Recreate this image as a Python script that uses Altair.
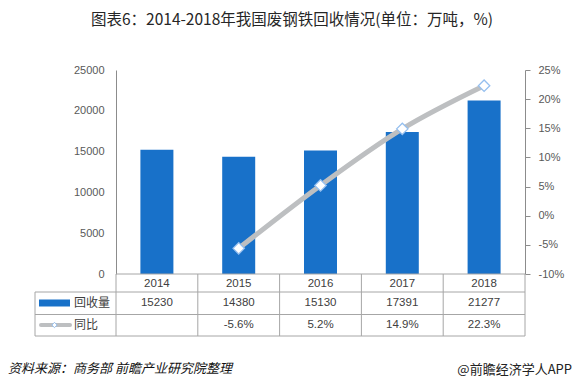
import altair as alt
import pandas as pd

# ---- data ----
years = ["2014", "2015", "2016", "2017", "2018"]
recovery = [15230, 14380, 15130, 17391, 21277]
yoy = [None, -5.6, 5.2, 14.9, 22.3]
left_ticks = [0, 5000, 10000, 15000, 20000, 25000]
right_ticks = [-10, -5, 0, 5, 10, 15, 20, 25]
series_names = ["回收量", "同比"]
title_text = "图表6：2014-2018年我国废钢铁回收情况(单位：万吨，%)"
source_text = "资料来源：商务部 前瞻产业研究院整理"
brand_text = "@前瞻经济学人APP"

df = pd.DataFrame({"year": years, "recovery": recovery, "yoy": yoy})
df["yoy_label"] = ["" if v is None else f"{v:.1f}%" for v in yoy]

FONT = "Liberation Sans, Noto Sans CJK SC, sans-serif"
CJK = "Noto Sans CJK SC, Liberation Sans, sans-serif"
BLUE = "#1871C9"
GRAY_LINE = "#BDBFC1"
GRID = "#A6A6A6"
AXIS = "#8C8C8C"
TXT = "#404040"

X = alt.X("year:N", axis=None, sort=years,
          scale=alt.Scale(paddingInner=0, paddingOuter=0))

bars = alt.Chart(df).mark_bar(size=33, color=BLUE).encode(
    x=X,
    y=alt.Y("recovery:Q",
            scale=alt.Scale(domain=[0, 25000], nice=False),
            axis=alt.Axis(orient="left", values=left_ticks, ticks=False,
                          format="d",
                          labelPadding=12, grid=False, title=None,
                          domainColor=AXIS, labelColor="#595959",
                          labelFontSize=11, labelFont=FONT)),
)

yoy_scale = alt.Scale(domain=[-10, 25], nice=False)

line = alt.Chart(df).transform_filter("isValid(datum.yoy)").mark_line(
    color=GRAY_LINE, strokeWidth=5, interpolate="monotone"
).encode(
    x=X,
    y=alt.Y("yoy:Q", scale=yoy_scale,
            axis=alt.Axis(orient="right", values=right_ticks, tickSize=5,
                          labelPadding=8, labelExpr="datum.value + '%'",
                          grid=False, title=None, domainColor=AXIS,
                          tickColor=AXIS, labelColor="#595959",
                          labelFontSize=11, labelFont=FONT)),
)

points = alt.Chart(df).transform_filter("isValid(datum.yoy)").mark_point(
    shape="diamond", filled=True, fill="white", stroke="#95BFEF",
    strokeWidth=1.3, size=130, opacity=1
).encode(
    x=X,
    y=alt.Y("yoy:Q", scale=yoy_scale, axis=None),
)

# ---- data table ----
year_text = alt.Chart(df).mark_text(fontSize=11.5, color=TXT, baseline="middle", font=FONT).encode(
    x=X, y=alt.value(213.5), text="year:N")
rec_text = alt.Chart(df).mark_text(fontSize=11.5, color=TXT, baseline="middle", font=FONT).encode(
    x=X, y=alt.value(233), text=alt.Text("recovery:Q", format="d"))
yoy_text = alt.Chart(df).mark_text(fontSize=11.5, color=TXT, baseline="middle", font=FONT).encode(
    x=X, y=alt.value(255), text="yoy_label:N")

vlines = alt.Chart(df).mark_rule(color=GRID, strokeWidth=1).encode(
    x=alt.X("year:N", sort=years, bandPosition=0, axis=None),
    y=alt.value(204), y2=alt.value(266))

one = pd.DataFrame({"k": [0]})


def rule(x1, x2, y1, y2):
    return alt.Chart(one).mark_rule(color=GRID, strokeWidth=1).encode(
        x=alt.value(x1), x2=alt.value(x2), y=alt.value(y1), y2=alt.value(y2))


table_rules = [
    rule(409, 409, 204, 266),
    rule(-81, -81, 222, 266),
    rule(0, 409, 204, 204),
    rule(-81, 409, 222, 222),
    rule(-81, 409, 244.5, 244.5),
    rule(-81, 409, 266, 266),
]

legend_df = pd.DataFrame({"name": series_names})
sw_bar = alt.Chart(one).mark_rect(color=BLUE).encode(
    x=alt.value(-77), x2=alt.value(-46), y=alt.value(229.5), y2=alt.value(236.5))
sw_line = alt.Chart(one).mark_rule(color=GRAY_LINE, strokeWidth=4, strokeCap="round").encode(
    x=alt.value(-75), x2=alt.value(-46), y=alt.value(255))
sw_pt = alt.Chart(one).mark_point(shape="diamond", filled=True, fill="white", stroke="#95BFEF",
                                  strokeWidth=1, size=28, opacity=1).encode(
    x=alt.value(-61.5), y=alt.value(255))
leg1 = alt.Chart(legend_df).transform_filter(f"datum.name == '{series_names[0]}'").mark_text(
    fontSize=12, color=TXT, align="left", baseline="middle", font=CJK).encode(
    x=alt.value(-42), y=alt.value(233), text="name:N")
leg2 = alt.Chart(legend_df).transform_filter(f"datum.name == '{series_names[1]}'").mark_text(
    fontSize=12, color=TXT, align="left", baseline="middle", font=CJK).encode(
    x=alt.value(-42), y=alt.value(255), text="name:N")

# ---- title and footer ----
title = alt.Chart(pd.DataFrame({"t": [title_text]})).mark_text(
    fontSize=15.5, color="#262626", align="center", baseline="middle", font=CJK,
    fontWeight="normal").encode(
    x=alt.value(176), y=alt.value(-50), text="t:N")
source = alt.Chart(pd.DataFrame({"t": [source_text]})).mark_text(
    fontSize=13, color="#111111", align="left", baseline="middle", fontStyle="italic", font=CJK).encode(
    x=alt.value(-108), y=alt.value(299), text="t:N")
brand = alt.Chart(pd.DataFrame({"t": [brand_text]})).mark_text(
    fontSize=13, color="#222222", align="right", baseline="middle", font=CJK).encode(
    x=alt.value(456), y=alt.value(300), text="t:N")

chart = alt.layer(
    bars, line, points, vlines, *table_rules, year_text, rec_text, yoy_text,
    sw_bar, sw_line, sw_pt, leg1, leg2, title, source, brand
).resolve_scale(y="independent").properties(
    width=409, height=204,
    autosize=alt.AutoSizeParams(type="none"),
    padding={"left": 108, "top": 62, "right": 48, "bottom": 109},
).configure_view(stroke=None)

chart.save("out.html", embed_options={"renderer": "svg", "actions": False})
